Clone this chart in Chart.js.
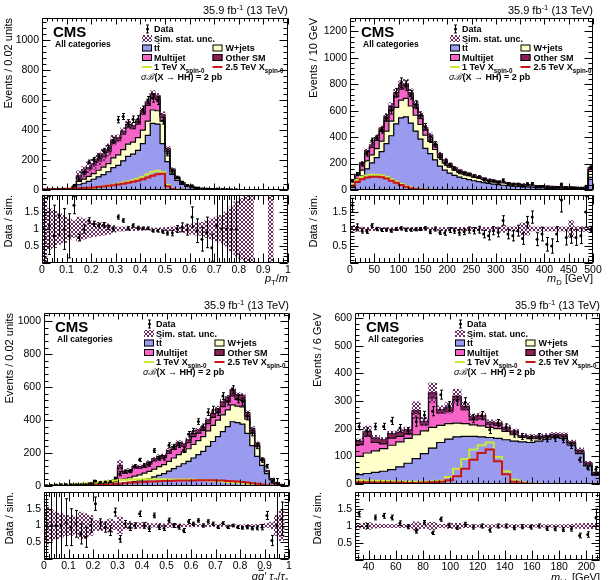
<!DOCTYPE html>
<html><head><meta charset="utf-8"><title>CMS HH distributions</title>
<script src="https://cdn.jsdelivr.net/npm/chart.js@4.4.1/dist/chart.umd.min.js"></script>
<style>html,body{margin:0;padding:0;background:#fff}#wrap{position:relative;width:612px;height:580px;overflow:hidden;background:#fff}#wrap canvas{position:absolute;left:0;top:0}</style>
</head><body><div id="wrap"></div><script>
// ===================== DATA =====================
// Panel 1 : pT/m, 0..1, 50 bins of 0.02
const p1_tt  = [0.2,0.4,0.6,0.8,1.0, 1,6,35,45,58, 72,88,103,122,150, 165,195,225,240,265, 310,365,445,440,310, 190,105,65,38,24, 16,11,8,6,4.5, 3.5,2.8,2.2,1.8,1.4, 0.9,0.8,0.6,0,0, 0,0.3,0,0,0];
const p1_wj  = [0.1,0.2,0.3,0.4,0.5, 0.5,4,22,28,33, 38,44,50,55,65, 70,75,82,80,85, 90,95,90,90,150, 70,25,12,7,4, 2,1.5,1,0.7,0.5, 0.4,0.3,0.3,0.2,0.2, 0,0,0,0,0, 0,0,0,0,0];
const p1_mj  = [0.2,0.4,0.6,0.8,1.0, 1,8,32,40,50, 57,63,69,77,100, 95,103,110,90,90, 107,105,88,75,25, 10,5,3,2,1, 1,0.5,0.5,0.3,0.2, 0.2,0.1,0.1,0.1,0.1, 0,0,0,0,0, 0,0,0,0,0];
const p1_osm = [0,0,0,0,0, 0.2,1,6,7,9, 10,11,12,14,18, 18,20,22,20,20, 22,24,22,22,18, 8,5,4,3,2, 1,1,0.8,0.6,0.5, 0.4,0.3,0.3,0.2,0.2, 0,0,0,0,0, 0,0,0,0,0];
const p1_sig1  = [0,0,0,0,0, 0,2,5,8,11, 15,19,24,29,35, 41,48,56,65,75, 88,105,122,128,118, 35,8,3,1,0, 0,0,0,0,0, 0,0,0,0,0, 0,0,0,0,0, 0,0,0,0,0];
const p1_sig25 = [4,5,6,7,8, 9,10,11,13,15, 17,20,24,28,32, 37,42,48,55,62, 72,83,95,105,108, 25,6,2,1,0, 0,0,0,0,0, 0,0,0,0,0, 0,0,0,0,0, 0,0,0,0,0];
const p1_data  = [1,1,1,3,3, 2,32,71,120,188, 204,227,262,281,333, 470,491,448,473,474, 540,601,613,596,463, 245,123,84,52,30, 27,13,7,7,3, 5,4,3,2,2, null,null,null,null,null, null,null,null,null,null];
const p1_ratio = [1.0,1.1,0.8,1.4,1.0, 0.8,1.7,0.75,1.0,1.25, 1.15,1.1,1.12,1.05,1.0, 1.35,1.25,1.02,1.1,1.03, 1.02,1.02,0.95,0.95,0.92, 0.88,0.88,1.0,1.05,0.98, 1.35,0.95,0.7,0.9,0.45, 1.1,1.0,1.0,1.0,1.0, null,null,null,null,null, null,null,null,null,null];
const p1_ratioErr = [1.5,0.85,0.9,0.6,0.6, 0.65,0.25,0.1,0.12,0.08, 0.08,0.07,0.07,0.06,0.06, 0.06,0.05,0.05,0.05,0.05, 0.04,0.04,0.04,0.04,0.045, 0.06,0.08,0.1,0.13,0.16, 0.3,0.35,0.35,0.45,0.4, 1.5,1.5,1.5,1.5,1.5, null,null,null,null,null, null,null,null,null,null];
const p1_unc = [1.0,0.6,0.55,0.45,0.4, 0.3,0.25,0.35,0.3,0.25, 0.22,0.2,0.18,0.15,0.1, 0.06,0.06,0.05,0.05,0.04, 0.04,0.03,0.03,0.03,0.04, 0.05,0.06,0.08,0.1,0.12, 0.15,0.18,0.2,0.25,0.3, 0.35,0.4,0.5,0.65,0.8, 0.9,1.0,1.0,null,null, null,1.0,null,null,null];

// Panel 2 : m_D, 0..500 GeV, 50 bins of 10 GeV (last bin incl. overflow)
const p2_tt  = [20,58,105,160,205, 245,290,350,410,500, 545,553,505,445,385, 315,275,228,180,150, 127,110,97,87,78, 70,63,56,49,44, 40,36,33,30,27, 25,23,21,19,18, 17,16,15,14,13, 12,12,11,11,95];
const p2_wj  = [9,25,45,60,60, 68,80,95,110,125, 135,140,130,120,110, 100,92,78,64,54, 46,40,36,33,30, 28,26,24,22,20, 18,17,16,15,14, 13,12,11,10,9, 8,8,7,6,6, 6,5,5,4,45];
const p2_mj  = [9,25,43,60,57, 62,72,83,85,80, 82,78,70,58,47, 37,32,26,20,17, 14,13,11,9,8, 7,6,5,5,4, 4,4,3,2,2, 2,2,2,2,2, 2,1,1,1,1, 1,1,1,1,15];
const p2_osm = [2,7,12,15,18, 20,23,27,30,30, 33,34,30,27,23, 18,16,13,11,9, 8,7,6,6,6, 5,5,5,4,4, 4,3,3,3,3, 2,2,2,2,2, 2,2,2,2,2, 2,2,2,2,15];
const p2_sig1  = [40,75,98,110,115, 115,110,100,82,65, 45,30,18,10,5, 2,1,0,0,0, 0,0,0,0,0, 0,0,0,0,0, 0,0,0,0,0, 0,0,0,0,0, 0,0,0,0,0, 0,0,0,0,0];
const p2_sig25 = [32,62,82,94,100, 100,96,86,70,54, 37,24,14,7,3, 1,0,0,0,0, 0,0,0,0,0, 0,0,0,0,0, 0,0,0,0,0, 0,0,0,0,0, 0,0,0,0,0, 0,0,0,0,0];
const p2_data  = [68,121,195,274,374, 395,451,544,603,735, 811,789,720,644,565, 479,382,345,248,202, 189,162,135,124,118, 105,98,77,64,68, 59,75,47,40,44, 30,47,49,23,26, 16,14,21,43,17, 17,15,15,27,170];
const p2_ratio = [1.7,1.05,0.95,0.93,1.1, 1.0,0.97,0.98,0.95,1.0, 1.02,0.98,0.98,0.99,1.0, 1.02,0.92,1.0,0.9,0.88, 0.97,0.95,0.9,0.92,0.97, 0.95,0.98,0.85,0.8,0.95, 0.9,1.25,0.85,0.8,0.95, 0.72,1.2,1.35,0.7,0.85, 0.55,0.5,0.85,1.85,0.75, 0.8,0.75,0.8,1.5,1.0];
const p2_ratioErr = [0.2,0.1,0.07,0.06,0.055, 0.05,0.045,0.045,0.045,0.045, 0.045,0.045,0.045,0.045,0.045, 0.05,0.055,0.06,0.06,0.065, 0.07,0.075,0.08,0.085,0.09, 0.095,0.1,0.11,0.12,0.12, 0.13,0.14,0.14,0.15,0.16, 0.17,0.17,0.18,0.19,0.2, 0.2,0.21,0.22,0.35,0.22, 0.22,0.23,0.23,0.45,0.08];
const p2_unc = [0.1,0.07,0.06,0.05,0.05, 0.04,0.04,0.04,0.04,0.04, 0.04,0.04,0.04,0.04,0.04, 0.04,0.04,0.04,0.04,0.045, 0.045,0.05,0.05,0.05,0.05, 0.05,0.05,0.05,0.05,0.05, 0.06,0.1,0.06,0.06,0.06, 0.18,0.18,0.06,0.06,0.06, 0.06,0.06,0.06,0.06,0.06, 0.25,0.07,0.07,0.07,0.05];

// Panel 3 : qq' tau ratio, 0..1, 50 bins of 0.02
const p3_tt  = [0.5,0.7,1,1.2,1.5, 1.8,2,2.5,3,4, 5,6,7,9,11, 15,18,22,27,32, 38,45,55,65,75, 90,105,120,135,150, 170,190,210,240,270, 300,330,360,390,385, 375,320,245,180,125, 75,37,15,4,0.8];
const p3_wj  = [1.2,1.8,2.4,3,3.5, 4,4.5,5.5,6.5,8, 9,11,12,14,16, 20,24,28,33,36, 40,44,48,52,55, 60,65,70,72,76, 82,86,90,95,98, 100,102,102,102,100, 105,85,75,60,30, 12,5,2,0.6,0.1];
const p3_mj  = [0.2,0.3,0.4,0.5,0.7, 0.8,1,1.4,1.8,2.2, 3,4,5,6,7, 70,35,37,50,40, 37,45,50,48,42, 50,52,55,35,37, 48,45,38,43,48, 45,50,48,55,40, 40,20,15,10,5, 2,1,0.5,0.2,0.05];
const p3_osm = [0.1,0.2,0.2,0.3,0.3, 0.4,0.5,0.6,0.7,0.8, 1,1,1,1,1, 20,8,8,10,10, 10,11,12,13,13, 15,16,17,16,17, 18,19,20,22,24, 25,28,30,38,30, 30,20,15,10,5, 3,2,0.5,0.2,0.05];
const p3_sig1  = [1,2,3,4,6, 8,10,13,16,19, 22,25,28,31,34, 36,38,39,40,40, 41,41,41,41,41, 40,40,40,39,39, 38,37,36,34,32, 30,28,25,22,19, 16,13,10,7,5, 3,1.5,0.5,0.2,0];
const p3_sig25 = [0,0,0,0.5,1, 1.5,2,3,4,5, 6,7,9,11,13, 15,17,19,21,23, 25,27,28,29,30, 31,32,33,33,34, 34,35,35,35,35, 34,33,31,29,27, 24,21,17,13,9, 5,2.5,1,0.3,0];
const p3_data  = [2,3,4,5,7, 7,8,8,8,15, 30,23,24,26,49, 75,89,90,120,159, 125,131,215,169,170, 247,238,249,219,314, 334,391,358,448,462, 447,546,513,585,527, 512,423,322,242,157, 120,25,18,6,null];
const p3_ratio = [1.0,1.0,1.0,1.0,1.1, 0.95,1.05,0.75,0.65,1.0, 1.65,1.05,0.95,0.85,1.4, 0.6,1.05,0.95,1.0,1.35, 1.0,0.9,1.3,0.95,0.92, 1.15,1.0,0.95,0.85,1.12, 1.05,1.15,1.0,1.12,1.05, 0.95,1.07,0.95,1.0,0.95, 0.93,0.95,0.92,0.93,0.95, 1.3,0.55,1.0,1.2,null];
const p3_ratioErr = [1.5,1.5,1.5,1.5,0.7, 0.55,0.4,0.3,0.3,0.2, 0.2,0.15,0.15,0.15,0.12, 0.1,0.1,0.1,0.08,0.08, 0.08,0.08,0.07,0.07,0.07, 0.07,0.06,0.06,0.06,0.06, 0.05,0.05,0.05,0.05,0.05, 0.04,0.04,0.04,0.04,0.04, 0.04,0.05,0.05,0.06,0.08, 0.12,0.15,1.5,0.5,null];
const p3_unc = [0.55,0.45,0.4,0.35,0.3, 0.3,0.25,0.4,0.35,0.3, 0.15,0.15,0.12,0.2,0.12, 0.25,0.1,0.12,0.08,0.08, 0.1,0.06,0.05,0.07,0.05, 0.06,0.05,0.05,0.04,0.04, 0.04,0.03,0.03,0.03,0.03, 0.03,0.03,0.02,0.02,0.02, 0.02,0.03,0.03,0.03,0.04, 0.06,0.1,0.3,0.45,null];

// Panel 4 : m_bb, 30..210 GeV, 30 bins of 6 GeV
const p4_tt  = [34,38,42,46,52, 62,75,92,110,130, 150,162,170,172,172, 170,168,165,160,155, 152,150,155,162,168, 165,140,110,65,32];
const p4_wj  = [66,74,78,82,88, 90,90,86,82,75, 62,56,50,46,42, 40,37,35,30,23, 16,14,9,6,4, 5,5,5,3,2];
const p4_mj  = [42,60,30,17,26, 20,16,77,22,106, 45,45,85,51,18, 25,10,12,8,7, 2,2,3,2,2, 3,2,3,4,4];
const p4_osm = [12,18,16,15,16, 15,15,10,12,18, 12,12,12,12,11, 12,8,8,7,6, 5,5,5,5,5, 5,4,4,4,4];
const p4_sig1  = [14,13,12,11,10, 9,8,8,8,9, 12,25,55,90,125, 140,150,98,45,15, 5,2,1,0,0, 0,0,0,0,0];
const p4_sig25 = [6,6,5,5,5, 5,4,4,5,6, 8,14,28,55,88, 112,125,82,35,8, 3,1,0,0,0, 0,0,0,0,0];
const p4_data  = [208,190,208,208,228, 202,192,225,249,263, 323,281,301,295,236, 247,196,220,205,181, 172,166,172,163,165, 160,139,88,57,53];
const p4_ratio = [1.35,1.0,1.25,1.3,1.25, 1.08,0.98,0.85,1.1,0.8, 1.2,1.02,0.95,1.05,0.97, 1.0,0.88,1.0,1.0,0.95, 0.98,0.97,1.0,0.93,0.92, 0.9,0.92,0.72,0.75,1.25];
const p4_ratioErr = [0.08,0.07,0.07,0.07,0.07, 0.07,0.06,0.06,0.06,0.05, 0.06,0.06,0.05,0.06,0.06, 0.06,0.06,0.06,0.06,0.06, 0.06,0.06,0.06,0.06,0.06, 0.06,0.07,0.07,0.08,0.25];
const p4_unc = [0.06,0.1,0.06,0.05,0.05, 0.05,0.05,0.12,0.07,0.11, 0.05,0.07,0.08,0.05,0.04, 0.04,0.04,0.04,0.04,0.04, 0.04,0.04,0.04,0.04,0.04, 0.04,0.05,0.07,0.08,0.08];

// tick labels
const p1_xTicks = [0,0.1,0.2,0.3,0.4,0.5,0.6,0.7,0.8,0.9,1];
const p2_xTicks = [0,50,100,150,200,250,300,350,400,450,500];
const p3_xTicks = [0,0.1,0.2,0.3,0.4,0.5,0.6,0.7,0.8,0.9,1];
const p4_xTicks = [40,60,80,100,120,140,160,180,200];
const p1_yTicks = [0,200,400,600,800,1000];
const p2_yTicks = [0,200,400,600,800,1000,1200];
const p3_yTicks = [0,200,400,600,800,1000];
const p4_yTicks = [0,100,200,300,400,500,600];
const ratio_yTicks = [0.5,1,1.5];

// ===================== DRAWING =====================
const FONT = "'Liberation Sans', Arial, Helvetica, sans-serif";
const COL = {tt:'#9a9aef', wj:'#ffffcc', mj:'#f763c8', osm:'#8c1f52', sig1:'#c9e83a', sig25:'#cc1414', hatch:'#6e2a62'};
Chart.defaults.font.family = FONT;
const wrap = document.getElementById('wrap');

function makeCanvas(){
  const c = document.createElement('canvas');
  c.width = 612; c.height = 580; c.style.width='612px'; c.style.height='580px';
  wrap.appendChild(c); return c;
}
function makePattern(ctx){
  const c = document.createElement('canvas'); c.width = 4; c.height = 4;
  const g = c.getContext('2d');
  g.strokeStyle = COL.hatch; g.lineWidth = 1;
  g.beginPath(); g.moveTo(-1,-1); g.lineTo(5,5); g.moveTo(5,-1); g.lineTo(-1,5); g.stroke();
  return ctx.createPattern(c,'repeat');
}
function rich(ctx, segs, x, y, size, align, bold){
  const items = segs.map(s => {
    const small = s.sub || s.sup;
    const sz = small ? size*0.7 : size;
    const b = (s.b !== undefined) ? s.b : bold;
    const font = (s.it ? 'italic ' : '') + (b ? 'bold ' : '') + sz + 'px ' + FONT;
    ctx.font = font;
    return {s, font, w: ctx.measureText(s.t).width, dy: s.sub ? size*0.3 : (s.sup ? -size*0.4 : 0)};
  });
  const tot = items.reduce((a,b)=>a+b.w,0);
  let cx = align==='right' ? x - tot : (align==='center' ? x - tot/2 : x);
  ctx.textAlign='left'; ctx.textBaseline='alphabetic';
  items.forEach(it => {
    ctx.font = it.font; ctx.fillText(it.s.t, cx, y + it.dy);
    if (it.s.bar){
      ctx.save(); ctx.lineWidth = 0.9; ctx.strokeStyle = '#000';
      ctx.beginPath(); ctx.moveTo(cx+0.6, y - size*0.88); ctx.lineTo(cx+it.w-0.4, y - size*0.88); ctx.stroke(); ctx.restore();
    }
    cx += it.w;
  });
}
function fmt(v){ return String(Math.round(v*1000)/1000); }

function frameTicks(chart, T){
  const ctx = chart.ctx, a = chart.chartArea, xs = chart.scales.x, ys = chart.scales.y;
  const lft = Math.round(a.left)+0.5, rgt = Math.round(a.right)-0.5, top = Math.round(a.top)+0.5, bot = Math.round(a.bottom)-0.5;
  ctx.save(); ctx.strokeStyle='#000'; ctx.lineWidth=1; ctx.beginPath();
  const seg = (x1,y1,x2,y2)=>{ ctx.moveTo(x1,y1); ctx.lineTo(x2,y2); };
  const doAxis = (scale, step, len, isX) => {
    const k0 = Math.ceil(scale.min/step - 1e-6), k1 = Math.floor(scale.max/step + 1e-6);
    for (let k=k0; k<=k1; k++){
      const p = Math.round(scale.getPixelForValue(k*step)) + 0.5;
      if (isX){ seg(p, bot, p, bot-len); seg(p, top, p, top+len); }
      else { seg(lft, p, lft+len, p); seg(rgt, p, rgt-len, p); }
    }
  };
  doAxis(xs, T.xMinor, T.xLen[1], true); doAxis(xs, T.xMajor, T.xLen[0], true);
  doAxis(ys, T.yMinor, T.yLen[1], false); doAxis(ys, T.yMajor, T.yLen[0], false);
  ctx.rect(lft, top, rgt-lft, bot-top);
  ctx.stroke(); ctx.restore();
}
function drawErrors(chart){
  const ctx = chart.ctx, a = chart.chartArea, xs = chart.scales.x, ys = chart.scales.y;
  ctx.save(); ctx.beginPath(); ctx.rect(a.left, a.top, a.right-a.left, a.bottom-a.top); ctx.clip();
  ctx.strokeStyle='#000'; ctx.lineWidth=1;
  chart.data.datasets.forEach(ds => {
    if (!ds.errs) return;
    ds.data.forEach((p,i) => {
      const e = ds.errs[i]; if (e == null || p.y == null) return;
      const px = Math.round(xs.getPixelForValue(p.x)) + 0.5;
      const y1 = ys.getPixelForValue(p.y - e), y2 = ys.getPixelForValue(p.y + e);
      ctx.beginPath(); ctx.moveTo(px, y1); ctx.lineTo(px, y2);
      ctx.moveTo(px-1.5, y1); ctx.lineTo(px+1.5, y1); ctx.moveTo(px-1.5, y2); ctx.lineTo(px+1.5, y2);
      ctx.stroke();
    });
  });
  ctx.restore();
}
function axisCfg(min, max, ticks, showLabels, size, pad, fitKey, fitVal){
  return {
    type:'linear', min, max, offset:false,
    grid:{display:false, drawTicks:false}, border:{display:false},
    afterBuildTicks: s => { s.ticks = ticks.map(v => ({value:v})); },
    afterFit: s => { s[fitKey] = fitVal; },
    ticks:{display:showLabels, autoSkip:false, maxRotation:0, minRotation:0, padding:pad, color:'#000',
      font:{family:FONT, size}, callback: v => fmt(v)}
  };
}
function baseOptions(P, box, xAxis, yAxis){
  return {
    responsive:false, animation:false, devicePixelRatio:1, events:[],
    layout:{padding:{left: box.L - 30, right: 612 - box.R, top: box.T, bottom: 580 - box.B - box.xH}},
    plugins:{legend:{display:false}, tooltip:{enabled:false}},
    scales:{x:xAxis, y:yAxis}
  };
}

function mainChart(P){
  const cv = makeCanvas(); const ctx = cv.getContext('2d'); const pat = makePattern(ctx);
  const n = P.tt.length, centers = [], edges = [];
  for (let i=0;i<=n;i++) edges.push(P.xmin + i*P.bw);
  for (let i=0;i<n;i++) centers.push(P.xmin + (i+0.5)*P.bw);
  const c1=[],c2=[],c3=[],c4=[];
  for (let i=0;i<n;i++){ c1[i]=P.tt[i]; c2[i]=c1[i]+P.wj[i]; c3[i]=c2[i]+P.mj[i]; c4[i]=c3[i]+P.osm[i]; }
  const zero = c1.map(()=>0);
  const fill = (lo, hi, col, ord) => ({type:'bar', order:ord, grouped:false, barPercentage:1, categoryPercentage:1, borderWidth:0,
    backgroundColor:col, data: centers.map((x,i)=>({x, y: (hi[i]-lo[i] > 1e-9) ? [lo[i], hi[i]] : null}))});
  const step = (v, col, w, ord) => ({type:'line', order:ord, stepped:true, borderColor:col, borderWidth:w, pointRadius:0, fill:false,
    data: edges.map((x,i)=>({x, y: v[Math.min(i,n-1)]}))});
  const bLo=[], bHi=[];
  for (let i=0;i<n;i++){
    if (P.unc[i]==null || c4[i]<=0){ bLo.push(0); bHi.push(0); }
    else { bLo.push(c4[i]*(1-P.unc[i])); bHi.push(c4[i]*(1+P.unc[i])); }
  }
  const pts=[], errs=[];
  for (let i=0;i<n;i++) if (P.data[i]!=null){ pts.push({x:centers[i], y:P.data[i]}); errs.push(P.ratioErr[i]!=null ? P.ratioErr[i]*c4[i] : 0); }
  const datasets = [
    {type:'line', order:0, showLine:false, data:pts, errs, pointRadius:1.5, pointBackgroundColor:'#000', pointBorderColor:'#000', pointBorderWidth:0},
    step(P.sig25, COL.sig25, 2, 0.9), step(P.sig1, COL.sig1, 2, 1),
    fill(bLo, bHi, pat, 1.5),
    step(c4,'#000',1.2,2), step(c3,'#000',1.2,2), step(c2,'#000',1.2,2), step(c1,'#000',1.2,2),
    fill(zero,c1,COL.tt,5), fill(c1,c2,COL.wj,5), fill(c2,c3,COL.mj,5), fill(c3,c4,COL.osm,5)
  ];
  const box = {L:P.L, R:P.R, T:P.T, B:P.B, xH:0};
  const opts = baseOptions(P, box,
    axisCfg(P.xmin, P.xmin + n*P.bw, P.xTicks, false, 10.5, 0, 'height', 0),
    axisCfg(0, P.ymax, P.yTicks, true, 10.5, 3, 'width', 30));
  const T = {xMajor:P.xMajor, xMinor:P.xMinor, yMajor:P.yMajor, yMinor:P.yMinor, xLen:[6,3], yLen:[8,4]};
  const deco = {id:'cmsdeco',
    afterDatasetsDraw(chart){ drawErrors(chart); },
    afterDraw(chart){ frameTicks(chart, T); drawMainDeco(chart.ctx, chart.chartArea, P, pat); }};
  new Chart(ctx, {type:'bar', data:{datasets}, options:opts, plugins:[deco]});
}

function drawMainDeco(ctx, a, P, pat){
  const l=a.left, t=a.top, r=a.right;
  ctx.save(); ctx.fillStyle='#000';
  rich(ctx, [{t:'35.9 fb'},{t:'-1',sup:true},{t:' (13 TeV)'}], r, t-4, 11, 'right', false);
  rich(ctx, [{t:'CMS'}], l+11, t+19, 15, 'left', true);
  rich(ctx, [{t:'All categories'}], l+13, t+29, 8.5, 'left', true);
  const ry = [11,20.5,30,39.5,49,59].map(v=>t+v);
  const c1 = l+100, c2 = l+170.5, tx1 = l+112, tx2 = l+183.5, bw = 10, bh = 7, fs = 9;
  const box = (x, y, f, border) => {
    ctx.fillStyle = f; ctx.fillRect(x, y-bh/2, bw, bh);
    if (border){ ctx.strokeStyle='#000'; ctx.lineWidth=1; ctx.strokeRect(x+0.5, y-bh/2+0.5, bw-1, bh-1); }
    ctx.fillStyle = '#000';
  };
  const line = (x, y, col) => { ctx.strokeStyle = col; ctx.lineWidth = 2; ctx.beginPath(); ctx.moveTo(x, y); ctx.lineTo(x+bw, y); ctx.stroke(); };
  const txt = (segs, x, y) => rich(ctx, segs, x, y+3.2, fs, 'left', true);
  const mx = c1 + 5.5;
  ctx.strokeStyle='#000'; ctx.lineWidth=1; ctx.beginPath();
  ctx.moveTo(mx, ry[0]-4); ctx.lineTo(mx, ry[0]+4); ctx.moveTo(mx-1.5, ry[0]-4); ctx.lineTo(mx+1.5, ry[0]-4); ctx.moveTo(mx-1.5, ry[0]+4); ctx.lineTo(mx+1.5, ry[0]+4);
  ctx.stroke(); ctx.beginPath(); ctx.arc(mx, ry[0], 1.5, 0, Math.PI*2); ctx.fill();
  txt([{t:'Data'}], tx1, ry[0]);
  box(c1, ry[1], pat, false); txt([{t:'Sim. stat. unc.'}], tx1, ry[1]);
  box(c1, ry[2], COL.tt, true); txt([{t:'t'},{t:'t',bar:true}], tx1, ry[2]);
  box(c2, ry[2], COL.wj, true); txt([{t:'W+jets'}], tx2, ry[2]);
  box(c1, ry[3], COL.mj, true); txt([{t:'Multijet'}], tx1, ry[3]);
  box(c2, ry[3], COL.osm, true); txt([{t:'Other SM'}], tx2, ry[3]);
  line(c1, ry[4], COL.sig1); txt([{t:'1 TeV X'},{t:'spin-0',sub:true}], tx1, ry[4]);
  line(c2, ry[4], COL.sig25); txt([{t:'2.5 TeV X'},{t:'spin-0',sub:true}], tx2, ry[4]);
  ctx.fillStyle='#000';
  rich(ctx, [{t:'\u03C3\u212C',it:true,b:false},{t:'(X \u2192 HH) = 2 pb'}], c1-1, ry[5]+3.2, fs, 'left', true);
  // y title
  ctx.save(); ctx.translate(P.ytx, t); ctx.rotate(-Math.PI/2);
  ctx.font = '11px ' + FONT; ctx.textAlign='right'; ctx.textBaseline='middle'; ctx.fillStyle='#000';
  ctx.fillText(P.ytitle, 0, 0); ctx.restore();
  ctx.restore();
}

function ratioChart(P){
  const cv = makeCanvas(); const ctx = cv.getContext('2d'); const pat = makePattern(ctx);
  const n = P.tt.length, centers = [];
  for (let i=0;i<n;i++) centers.push(P.xmin + (i+0.5)*P.bw);
  const pts=[], errs=[];
  for (let i=0;i<n;i++) if (P.ratio[i]!=null){ pts.push({x:centers[i], y:P.ratio[i]}); errs.push(P.ratioErr[i]); }
  const datasets = [
    {type:'line', order:0, showLine:false, data:pts, errs, pointRadius:1.5, pointBackgroundColor:'#000', pointBorderColor:'#000', pointBorderWidth:0},
    {type:'bar', order:2, grouped:false, barPercentage:1, categoryPercentage:1, borderWidth:0, backgroundColor:pat,
      data: centers.map((x,i)=>({x, y: P.unc[i]!=null ? [1-P.unc[i], 1+P.unc[i]] : null}))}
  ];
  const box = {L:P.L, R:P.R, T:P.rT, B:P.rB, xH:16};
  const opts = baseOptions(P, box,
    axisCfg(P.xmin, P.xmin + n*P.bw, P.xTicks, true, 10.5, 1, 'height', 16),
    axisCfg(0, 2, ratio_yTicks, true, 10.5, 3, 'width', 30));
  const T = {xMajor:P.xMajor, xMinor:P.xMinor, yMajor:0.5, yMinor:0.1, xLen:[9,4.5], yLen:[8,4]};
  const deco = {id:'cmsdeco',
    afterDatasetsDraw(chart){ drawErrors(chart); },
    afterDraw(chart){
      frameTicks(chart, T);
      const c = chart.ctx, a = chart.chartArea;
      c.save(); c.fillStyle='#000';
      rich(c, P.xtitle, a.right, a.bottom + P.xtOff, 11, 'right', false);
      c.translate(P.ytx, a.top); c.rotate(-Math.PI/2);
      c.font = '11px ' + FONT; c.textAlign='right'; c.textBaseline='middle';
      c.fillText('Data / sim.', 0, 0);
      c.restore();
    }};
  new Chart(ctx, {type:'bar', data:{datasets}, options:opts, plugins:[deco]});
}

const panels = [
  {L:42, R:288, T:18, B:190, rT:195, rB:263, ytx:9, xtOff:19, xmin:0, bw:0.02, ymax:1150,
   xTicks:p1_xTicks, yTicks:p1_yTicks, xMajor:0.1, xMinor:0.02, yMajor:200, yMinor:40,
   tt:p1_tt, wj:p1_wj, mj:p1_mj, osm:p1_osm, sig1:p1_sig1, sig25:p1_sig25, data:p1_data,
   ratio:p1_ratio, ratioErr:p1_ratioErr, unc:p1_unc, ytitle:'Events / 0.02 units',
   xtitle:[{t:'p',it:true},{t:'T',sub:true},{t:'/'},{t:'m',it:true}]},
  {L:350, R:593, T:18, B:190, rT:195, rB:263, ytx:314, xtOff:19, xmin:0, bw:10, ymax:1300,
   xTicks:p2_xTicks, yTicks:p2_yTicks, xMajor:50, xMinor:10, yMajor:200, yMinor:40,
   tt:p2_tt, wj:p2_wj, mj:p2_mj, osm:p2_osm, sig1:p2_sig1, sig25:p2_sig25, data:p2_data,
   ratio:p2_ratio, ratioErr:p2_ratioErr, unc:p2_unc, ytitle:'Events / 10 GeV',
   xtitle:[{t:'m',it:true},{t:'D',sub:true},{t:' [GeV]'}]},
  {L:44, R:289, T:313, B:486, rT:492, rB:559, ytx:10, xtOff:21, xmin:0, bw:0.02, ymax:1050,
   xTicks:p3_xTicks, yTicks:p3_yTicks, xMajor:0.1, xMinor:0.02, yMajor:200, yMinor:40,
   tt:p3_tt, wj:p3_wj, mj:p3_mj, osm:p3_osm, sig1:p3_sig1, sig25:p3_sig25, data:p3_data,
   ratio:p3_ratio, ratioErr:p3_ratioErr, unc:p3_unc, ytitle:'Events / 0.02 units',
   xtitle:[{t:'q',it:true},{t:'q',it:true,bar:true},{t:'\u2032 ',it:true},{t:'\u03C4',it:true},{t:'2',sub:true},{t:'/'},{t:'\u03C4',it:true},{t:'1',sub:true}]},
  {L:355, R:600, T:313, B:484, rT:492, rB:560, ytx:318, xtOff:21, xmin:30, bw:6, ymax:618,
   xTicks:p4_xTicks, yTicks:p4_yTicks, xMajor:20, xMinor:4, yMajor:100, yMinor:20,
   tt:p4_tt, wj:p4_wj, mj:p4_mj, osm:p4_osm, sig1:p4_sig1, sig25:p4_sig25, data:p4_data,
   ratio:p4_ratio, ratioErr:p4_ratioErr, unc:p4_unc, ytitle:'Events / 6 GeV',
   xtitle:[{t:'m',it:true},{t:'bb',sub:true},{t:' [GeV]'}]}
];
panels.forEach(P => { mainChart(P); ratioChart(P); });
</script></body></html>
